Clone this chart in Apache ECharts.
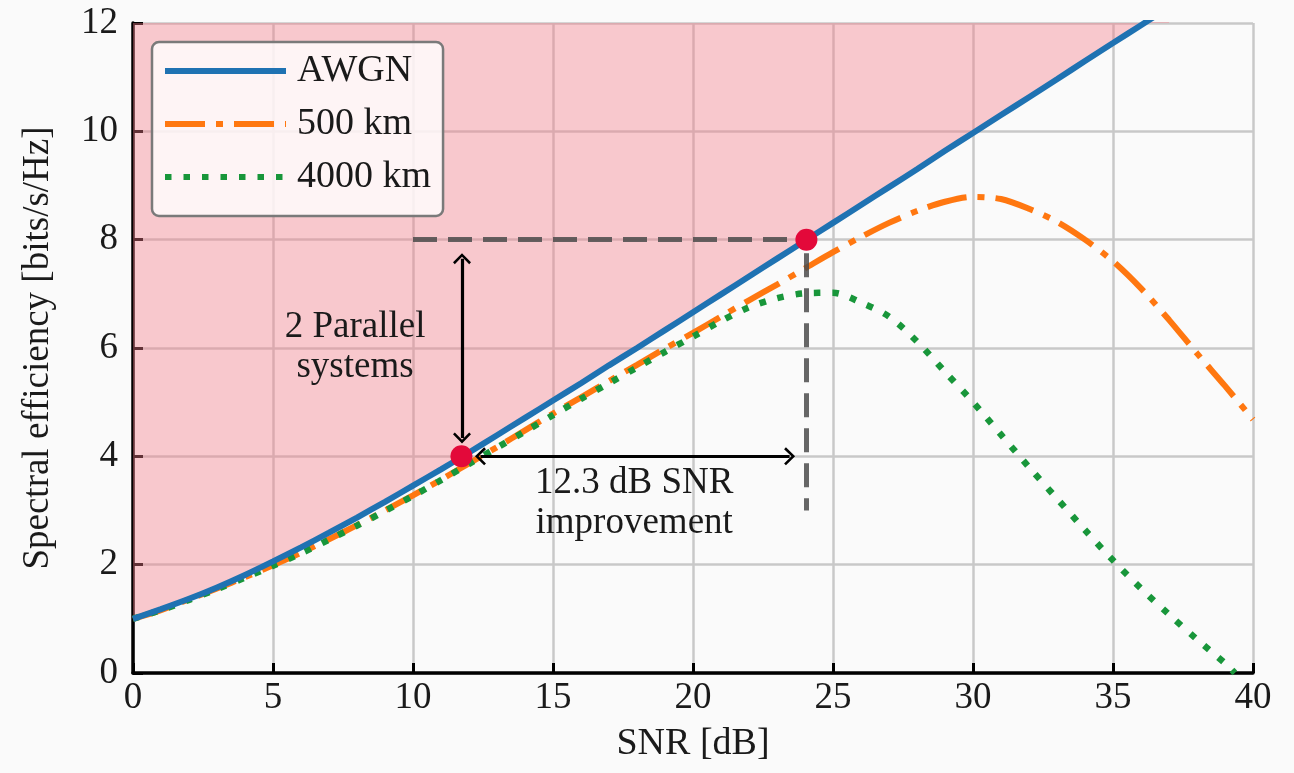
<!DOCTYPE html>
<html>
<head>
<meta charset="utf-8">
<title>Spectral efficiency vs SNR</title>
<script src="https://cdn.jsdelivr.net/npm/echarts@6/dist/echarts.min.js"></script>
<style>
  html, body { margin: 0; padding: 0; background: #fafafa; }
  #chart { width: 1294px; height: 773px; }
</style>
</head>
<body>
<div id="chart"></div>
<script>
// valeurs (SNR en dB)
const snrDb = [0, 1, 2, 3, 4, 5, 6, 7, 8, 9, 10, 11, 12, 13, 14, 15, 16, 17, 18, 19, 20,
               21, 22, 23, 24, 25, 26, 27, 28, 29, 30, 31, 32, 33, 34, 35, 36, 37, 38, 39, 40];
const awgn = [1.00, 1.18, 1.37, 1.58, 1.81, 2.06, 2.32, 2.59, 2.87, 3.16, 3.46, 3.76, 4.07, 4.39,
              4.71, 5.03, 5.35, 5.68, 6.00, 6.33, 6.66, 6.99, 7.32, 7.65, 7.98, 8.31, 8.64, 8.97,
              9.30, 9.64, 9.97, 10.30, 10.63, 10.96, 11.30, 11.63, 11.96, 12.29];
const km500 = [1.00, 1.16, 1.36, 1.56, 1.77, 1.99, 2.22, 2.47, 2.73, 3.00, 3.28, 3.57, 3.87, 4.17,
               4.48, 4.79, 5.09, 5.39, 5.69, 5.99, 6.28, 6.58, 6.88, 7.17, 7.47, 7.77, 8.05, 8.31,
               8.53, 8.70, 8.79, 8.75, 8.57, 8.33, 8.00, 7.60, 7.10, 6.52, 5.90, 5.30, 4.68];
const snr4000 = [0, 1, 2, 3, 4, 5, 6, 7, 8, 9, 10, 11, 12, 13, 14, 15, 16, 17, 18, 19, 20,
                 21, 22, 23, 24, 25, 26, 27, 28, 29, 30, 31, 32, 33, 34, 35, 36, 37, 38, 39, 39.35];
const km4000 = [1.00, 1.16, 1.35, 1.55, 1.76, 1.98, 2.21, 2.46, 2.72, 2.99, 3.27, 3.56, 3.86, 4.16,
                4.46, 4.76, 5.06, 5.35, 5.64, 5.93, 6.21, 6.50, 6.75, 6.92, 7.01, 7.02, 6.84, 6.58,
                6.12, 5.56, 5.00, 4.40, 3.80, 3.22, 2.64, 2.08, 1.56, 1.08, 0.62, 0.18, 0.00];

// points et annotations
const keyPoints = [[11.73, 4], [24.05, 8]];
const dashedGuides = [[[10, 8], [24.05, 8]], [[24.05, 7.75], [24.05, 3]]];
const arrows = [[[11.75, 7.65], [11.75, 4.34]], [[12.41, 4], [23.45, 4]]];
const notes = [
    { pos: [7.93, 6.02], text: '2 Parallel\nsystems' },
    { pos: [17.9, 3.14], text: '12.3 dB SNR\nimprovement' }
];

const xTicks = { min: 0, max: 40, step: 5 };
const yTicks = { min: 0, max: 12, step: 2 };

const FONT = "'Liberation Serif', 'DejaVu Serif', serif";
const chevron = 'path://M10,0 L20,10 L18,12 L10,4 L2,12 L0,10 Z';

const zip = (xs, ys) => ys.map((y, i) => [xs[i], y]);

var chartDom = document.getElementById('chart');
var myChart = echarts.init(chartDom);

var option = {
    backgroundColor: '#fafafa',
    animation: false,
    textStyle: { fontFamily: FONT, color: '#1a1a1a' },
    grid: { left: 133, right: 41, top: 23, bottom: 100 },
    legend: {
        orient: 'vertical',
        left: 152, top: 42,
        data: ['AWGN', '500 km', '4000 km'],
        itemWidth: 121, itemHeight: 14, itemGap: 15,
        padding: [10, 12, 20, 10],
        backgroundColor: 'rgba(255,255,255,0.8)',
        borderColor: '#7a7a7a', borderWidth: 2.5, borderRadius: 7,
        lineStyle: { width: 6 },
        itemStyle: { opacity: 0 },
        textStyle: { fontFamily: FONT, fontSize: 38, lineHeight: 36, color: '#1a1a1a', padding: [0, 0, 0, 6] }
    },
    xAxis: {
        type: 'value',
        min: xTicks.min, max: xTicks.max, interval: xTicks.step,
        name: 'SNR [dB]', nameLocation: 'middle', nameGap: 52,
        nameTextStyle: { fontFamily: FONT, fontSize: 38, color: '#1a1a1a' },
        axisLine: { lineStyle: { color: '#000', width: 3.5 } },
        axisTick: { inside: true, length: 10, lineStyle: { color: '#000', width: 3 } },
        axisLabel: { fontFamily: FONT, fontSize: 37, color: '#1a1a1a', margin: 7 },
        splitLine: { show: true, lineStyle: { color: '#c8c8c8', width: 2.5 } }
    },
    yAxis: {
        type: 'value',
        min: yTicks.min, max: yTicks.max, interval: yTicks.step,
        name: 'Spectral efficiency [bits/s/Hz]', nameLocation: 'middle', nameGap: 76,
        nameTextStyle: { fontFamily: FONT, fontSize: 37, color: '#1a1a1a' },
        axisLine: { show: true, lineStyle: { color: '#000', width: 3.5 } },
        axisTick: { show: true, inside: true, length: 10, lineStyle: { color: '#000', width: 3 } },
        axisLabel: { fontFamily: FONT, fontSize: 37, color: '#1a1a1a', margin: 15 },
        splitLine: { show: true, lineStyle: { color: '#c8c8c8', width: 2.5 } }
    },
    series: [
        // zone rose au-dessus de la courbe AWGN
        {
            name: 'region',
            type: 'line',
            data: zip(snrDb, awgn),
            symbol: 'none',
            smooth: 0.3,
            lineStyle: { opacity: 0 },
            areaStyle: { origin: 'end', color: 'rgba(245,125,137,0.4)', opacity: 1 },
            silent: true,
            z: 1
        },
        {
            name: 'AWGN',
            type: 'line',
            data: zip(snrDb, awgn),
            symbol: 'none',
            smooth: 0.3,
            color: '#1f72b2',
            lineStyle: { color: '#1f72b2', width: 6 },
            z: 3
        },
        {
            name: '500 km',
            type: 'line',
            data: zip(snrDb, km500),
            symbol: 'none',
            smooth: 0.3,
            color: '#ff7710',
            lineStyle: { color: '#ff7710', width: 6, type: [40, 11, 7, 11] },
            z: 2
        },
        {
            name: '4000 km',
            type: 'line',
            data: zip(snr4000, km4000),
            symbol: 'none',
            smooth: 0.3,
            color: '#18963a',
            lineStyle: { color: '#18963a', width: 6.5, type: [6.5, 12] },
            z: 2
        },
        // lignes pointillées et flèches
        {
            name: 'guides',
            type: 'line',
            data: [],
            z: 4,
            markLine: {
                silent: true,
                animation: false,
                label: { show: false },
                emphasis: { disabled: true },
                data: dashedGuides.map(seg => [
                    { coord: seg[0], symbol: 'none', lineStyle: { color: 'rgba(75,75,75,0.85)', width: 5, type: [24, 11] } },
                    { coord: seg[1], symbol: 'none' }
                ]).concat(arrows.map(seg => [
                    { coord: seg[0], symbol: chevron, symbolSize: [18, 11], lineStyle: { color: '#000', width: 3.2, type: 'solid' } },
                    { coord: seg[1], symbol: chevron, symbolSize: [18, 11] }
                ]))
            }
        },
        {
            name: 'points',
            type: 'scatter',
            data: keyPoints,
            symbolSize: 22,
            itemStyle: { color: '#e3093a', opacity: 1 },
            z: 6
        },
        {
            name: 'notes',
            type: 'scatter',
            data: notes.map(n => ({ value: n.pos, label: { formatter: n.text } })),
            symbolSize: 0,
            silent: true,
            z: 5,
            itemStyle: { opacity: 1 },
            label: {
                show: true,
                position: 'inside',
                fontFamily: FONT,
                fontSize: 37,
                lineHeight: 40,
                color: '#1a1a1a',
                align: 'center',
                verticalAlign: 'middle'
            }
        }
    ]
};

myChart.setOption(option);
window.addEventListener('resize', () => myChart.resize());
</script>
</body>
</html>
